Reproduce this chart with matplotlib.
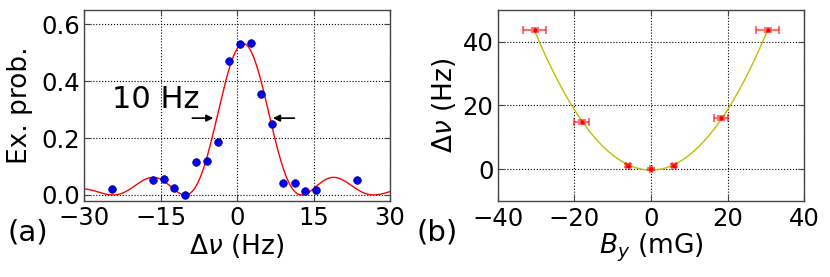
import matplotlib
matplotlib.use("Agg")
import matplotlib.pyplot as plt
import numpy as np

# panel (a): spectrum data
det = [-24.5, -16.5, -14.4, -12.3, -10.1, -8.0, -5.9, -3.8, -1.5, 0.5, 2.7,
       4.8, 6.9, 9.1, 11.3, 13.3, 15.5, 23.5]
prob = [0.020, 0.053, 0.055, 0.025, 0.000, 0.115, 0.118, 0.186, 0.472, 0.530,
        0.533, 0.354, 0.249, 0.042, 0.043, 0.014, 0.018, 0.053]

# Rabi fit parameters (amplitude, centre, Rabi freq. in Hz)
fitA, fitc, fitW = 0.532, 1.25, 6.6

# panel (b): shift vs field
By = [-30.3, -18.1, -5.9, 0.0, 6.1, 18.3, 30.5]
By_err = [3.0, 1.9, 0.5, 0.3, 0.5, 1.8, 3.0]
shift = [43.8, 14.8, 1.1, 0.1, 1.1, 16.0, 43.8]
shift_err = [0.7, 0.6, 0.4, 0.3, 0.4, 0.6, 0.7]

# quadratic fit parameters
qa, qc = 0.0475, -0.3

plt.rcParams['font.family'] = ['DejaVu Sans']
plt.rcParams['mathtext.fontset'] = 'dejavusans'

fs_tick = 17.5
fs_lab = 19

fig = plt.figure(figsize=(8.3, 2.77), dpi=100)
ax1 = fig.add_axes([0.1012, 0.2756, 0.3687, 0.6883])
ax2 = fig.add_axes([0.5996, 0.2744, 0.3694, 0.6895])

for ax in [ax1, ax2]:
    ax.grid(True, color='k', linestyle=':', linewidth=0.8)
    ax.tick_params(direction='in', top=True, right=True, length=4,
                   color='#444444', labelsize=fs_tick)
    ax.tick_params(axis='x', pad=4)
    ax.tick_params(axis='y', pad=3)
    for s in ax.spines.values():
        s.set_color('#444444')
        s.set_linewidth(1.0)

# (a)
d = np.linspace(-30, 30, 600)
u2 = ((d - fitc) / fitW) ** 2
rabi = fitA / (1 + u2) * np.sin(np.pi / 2 * np.sqrt(1 + u2)) ** 2
ax1.plot(d, rabi, color='r', lw=1.0)
ax1.plot(det, prob, 'o', color='#0000ee', mec='#00008b', mew=0.5, ms=5.5)
ax1.set_xlim(-30, 30)
ax1.set_ylim(-0.02, 0.65)
ax1.set_xticks([-30, -15, 0, 15, 30])
ax1.set_xticklabels(['\u221230', '\u221215', '0', '15', '30'])
ax1.set_yticks([0.0, 0.2, 0.4, 0.6])
ax1.set_xlabel(r'$\Delta\nu$ (Hz)', fontsize=fs_lab, labelpad=1)
ax1.set_ylabel('Ex. prob.', fontsize=fs_lab, labelpad=6)

ax1.annotate('', xy=(-4.1, 0.27), xytext=(-9.3, 0.27),
             arrowprops=dict(arrowstyle='-|>', color='k', lw=1.2, mutation_scale=10))
ax1.annotate('', xy=(6.5, 0.27), xytext=(11.8, 0.27),
             arrowprops=dict(arrowstyle='-|>', color='k', lw=1.2, mutation_scale=10))
ax1.text(-24.5, 0.334, '10 Hz', fontsize=22, va='center', ha='left')

# (b)
b = np.linspace(By[0], By[-1], 400)
ax2.plot(b, qa * b ** 2 + qc, color=(0.75, 0.75, 0), lw=1.0)
ax2.errorbar(By, shift, xerr=By_err, yerr=shift_err, fmt='none',
             ecolor=(1, 0, 0, 0.55), elinewidth=1.5, capsize=3, capthick=1.5)
ax2.plot(By, shift, 'o', color='r', ms=3, mew=0)
ax2.set_xlim(-40, 40)
ax2.set_ylim(-10, 50)
ax2.set_xticks([-40, -20, 0, 20, 40])
ax2.set_xticklabels(['\u221240', '\u221220', '0', '20', '40'])
ax2.set_yticks([0, 20, 40])
ax2.set_xlabel(r'$B_y$ (mG)', fontsize=fs_lab, labelpad=1)
ax2.set_ylabel(r'$\Delta\nu$ (Hz)', fontsize=fs_lab, labelpad=3)

fig.text(0.009, 0.162, '(a)', fontsize=21, va='center', ha='left')
fig.text(0.502, 0.162, '(b)', fontsize=21, va='center', ha='left')

fig.savefig('out.png', dpi=100)
